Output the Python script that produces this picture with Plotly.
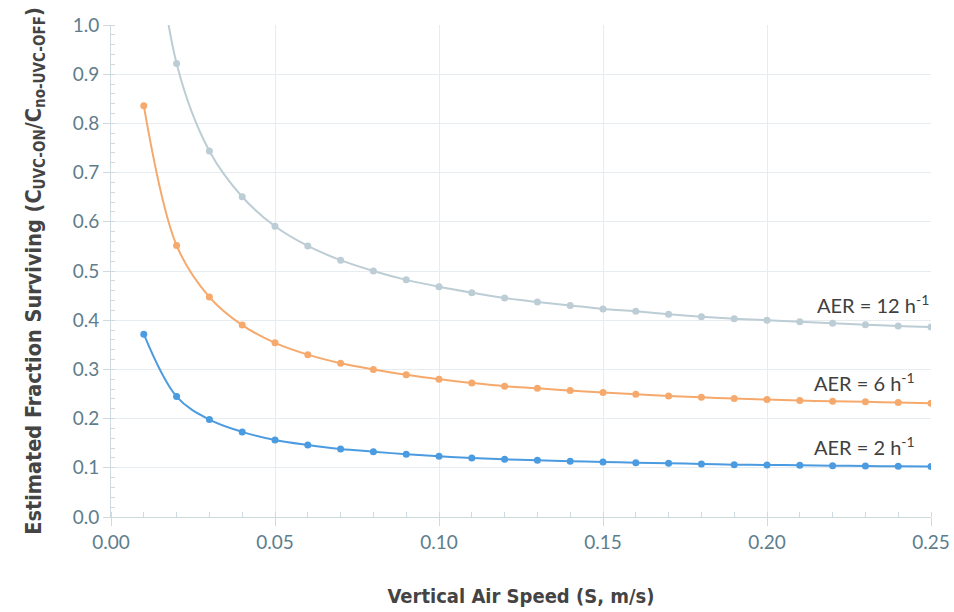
import plotly.graph_objects as go

speed = [0.01, 0.02, 0.03, 0.04, 0.05, 0.06, 0.07, 0.08, 0.09, 0.10,
         0.11, 0.12, 0.13, 0.14, 0.15, 0.16, 0.17, 0.18, 0.19, 0.20,
         0.21, 0.22, 0.23, 0.24, 0.25]

aer12 = [1.39, 0.922, 0.744, 0.651, 0.591, 0.551, 0.522, 0.500, 0.482, 0.468,
         0.456, 0.445, 0.437, 0.430, 0.423, 0.418, 0.412, 0.407, 0.403, 0.400,
         0.397, 0.394, 0.391, 0.388, 0.386]

aer6 = [0.836, 0.552, 0.447, 0.390, 0.354, 0.330, 0.3125, 0.300, 0.289, 0.280,
        0.2725, 0.266, 0.2617, 0.257, 0.253, 0.2495, 0.246, 0.2434, 0.2406, 0.2386,
        0.2366, 0.2353, 0.234, 0.2325, 0.231]

aer2 = [0.3715, 0.2447, 0.198, 0.173, 0.1566, 0.1464, 0.1383, 0.1328, 0.1275, 0.1234,
        0.120, 0.1173, 0.1153, 0.1133, 0.1119, 0.1105, 0.1092, 0.1078, 0.1064, 0.1058,
        0.1051, 0.1044, 0.1035, 0.103, 0.1024]

series_names = ["AER = 12 h<sup>-1</sup>", "AER = 6 h<sup>-1</sup>", "AER = 2 h<sup>-1</sup>"]
series_colors = ["#bccdd5", "#f6a96c", "#4b9be0"]
label_x = [0.2500, 0.2457, 0.2457]
label_y = [0.432, 0.2746, 0.1444]

x_ticks = [0.00, 0.05, 0.10, 0.15, 0.20, 0.25]
x_ticklabels = ["0.00", "0.05", "0.10", "0.15", "0.20", "0.25"]
y_ticks = [0.0, 0.1, 0.2, 0.3, 0.4, 0.5, 0.6, 0.7, 0.8, 0.9, 1.0]
y_ticklabels = ["0.0", "0.1", "0.2", "0.3", "0.4", "0.5", "0.6", "0.7", "0.8", "0.9", "1.0"]

fig = go.Figure()
for ys, name, col in zip([aer12, aer6, aer2], series_names, series_colors):
    fig.add_trace(go.Scatter(
        x=speed, y=ys, name=name, mode="lines+markers",
        line=dict(color=col, width=2, shape="spline", smoothing=1.0),
        marker=dict(color=col, size=7),
        showlegend=False,
    ))

for name, lx, ly in zip(series_names, label_x, label_y):
    fig.add_annotation(
        x=lx, y=ly, xref="x", yref="y", text=name, showarrow=False,
        xanchor="right", yanchor="middle",
        font=dict(family="Lato, Open Sans, sans-serif", size=20, color="#404040"),
    )

tick_font = dict(family="Lato, Open Sans, sans-serif", size=19, color="#5e7d8c")
title_family = "Liberation Sans Narrow, DejaVu Sans Condensed, Arial Narrow, sans-serif"

fig.update_layout(
    width=954, height=612,
    margin=dict(l=111, r=23, t=25, b=95),
    paper_bgcolor="white", plot_bgcolor="white",
    xaxis=dict(
        range=[0, 0.25], tickvals=x_ticks, ticktext=x_ticklabels,
        showgrid=True, gridcolor="#e6ecef", gridwidth=1,
        showline=True, linecolor="#cfdae0", linewidth=1,
        ticks="outside", ticklen=8, tickcolor="#cfdae0",
        minor=dict(dtick=0.01, ticks="inside", ticklen=5, tickcolor="#cfdae0", showgrid=False),
        tickfont=tick_font, zeroline=False, automargin=False,
        title=dict(text="<b>Vertical Air Speed (S, m/s)</b>",
                   font=dict(family=title_family, size=20, color="#444444"), standoff=37),
    ),
    yaxis=dict(
        range=[0, 1.0], tickvals=y_ticks, ticktext=y_ticklabels,
        showgrid=True, gridcolor="#e6ecef", gridwidth=1,
        showline=True, linecolor="#cfdae0", linewidth=1,
        ticks="outside", ticklen=7, tickcolor="#cfdae0",
        minor=dict(dtick=0.02, ticks="inside", ticklen=4, tickcolor="#cfdae0", showgrid=False),
        tickfont=tick_font, zeroline=False, automargin=False,
        title=dict(text="<b>Estimated Fraction Surviving (C<sub>UVC-ON</sub>/C<sub>no-UVC-OFF</sub>)</b>",
                   font=dict(family=title_family, size=21.5, color="#444444"), standoff=25),
    ),
)

fig.write_html("out.html")
